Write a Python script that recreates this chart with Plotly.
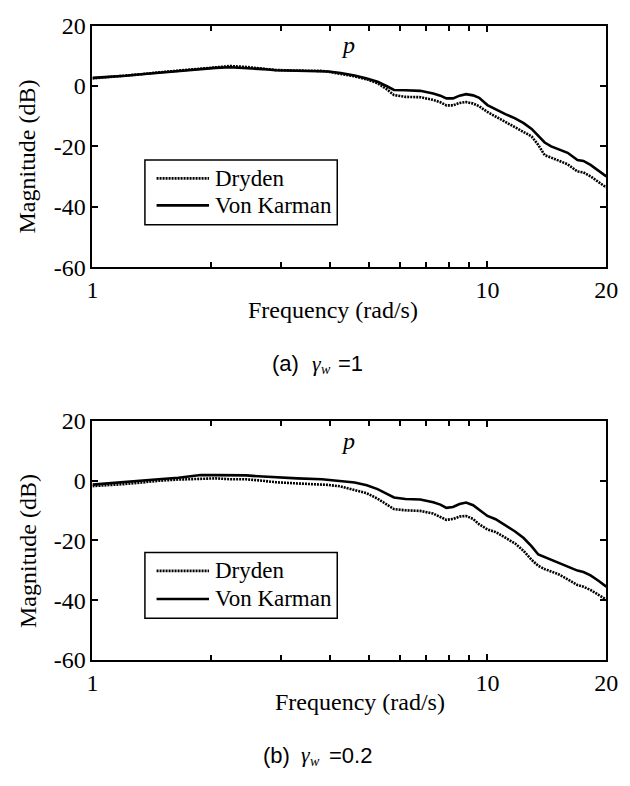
import plotly.graph_objects as go
import math

# ---------------- data ----------------
freq = [1.00, 1.10, 1.21, 1.33, 1.47, 1.65, 1.88, 2.05, 2.23, 2.45, 2.70, 2.91, 3.30, 3.81, 3.96,
        4.25, 4.61, 4.95, 5.27, 5.55, 5.80, 6.20, 6.76, 7.29, 7.60, 7.87, 8.18, 8.50, 8.83, 9.20,
        9.53, 10.0, 10.49, 11.10, 11.75, 12.35, 12.94, 13.45, 13.96, 14.50, 15.07, 15.96, 16.90,
        17.50, 18.24, 19.10, 20.0]

vk_a = [2.7, 3.0, 3.4, 3.9, 4.4, 5.0, 5.7, 6.0, 6.2, 6.0, 5.6, 5.2, 5.1, 5.0, 4.8,
        4.3, 3.5, 2.5, 1.4, 0.0, -1.3, -1.4, -1.6, -2.5, -3.2, -4.1, -4.1, -3.2, -2.7, -3.1,
        -3.9, -6.3, -7.8, -9.3, -10.7, -12.3, -14.2, -16.5, -18.7, -20.0, -20.8, -22.1, -24.5,
        -24.8, -26.1, -28.0, -29.9]
dr_a = [2.5, 2.9, 3.3, 3.9, 4.5, 5.1, 5.8, 6.2, 6.6, 6.3, 5.7, 5.3, 5.1, 5.0, 4.7,
        4.1, 3.2, 2.2, 0.9, -1.0, -3.0, -3.6, -3.7, -4.6, -5.4, -6.4, -6.4, -5.6, -5.3, -5.8,
        -6.7, -8.6, -10.1, -11.9, -13.5, -15.0, -16.7, -19.5, -22.9, -23.7, -24.5, -25.9, -28.3,
        -28.6, -29.9, -31.8, -33.6]

vk_b = [-1.3, -0.8, -0.3, 0.1, 0.5, 1.0, 1.9, 1.9, 1.9, 1.8, 1.4, 1.1, 0.8, 0.5, 0.3,
        0.0, -0.6, -1.5, -2.8, -4.3, -5.6, -6.1, -6.3, -7.2, -8.0, -9.1, -8.8, -7.8, -7.3, -8.2,
        -9.8, -11.8, -12.9, -15.0, -17.0, -19.2, -22.0, -24.7, -25.6, -26.5, -27.4, -28.7, -30.1,
        -30.6, -31.7, -33.5, -35.5]
dr_b = [-1.8, -1.5, -1.1, -0.6, 0.0, 0.4, 0.75, 0.8, 0.5, 0.5, 0.0, -0.5, -0.9, -1.1, -1.4,
        -1.9, -3.0, -4.2, -6.0, -7.9, -9.5, -9.9, -10.1, -11.0, -12.0, -13.1, -12.8, -12.0, -11.8, -12.8,
        -14.6, -16.3, -17.2, -19.2, -21.0, -23.5, -26.5, -28.5, -29.6, -30.4, -31.2, -33.0, -34.9,
        -35.5, -36.6, -38.2, -39.8]

series_names = ["Dryden", "Von Karman"]
x_tickvals = [1, 10, 20]
x_ticktext = ["1", "10", "20"]
x_minorvals = [2, 3, 4, 5, 6, 7, 8, 9]
y_tickvals = [-60, -40, -20, 0, 20]
y_ticktext = ["-60", "-40", "-20", "0", "20"]
x_title = "Frequency (rad/s)"
y_title = "Magnitude (dB)"
panel_labels = ["(a)", "(b)"]
gamma_values = ["=1", "=0.2"]

# ---------------- layout helpers ----------------
W, H = 630, 786
SERIF = "Liberation Serif"
SANS = "Liberation Sans"


def px(x):
    return x / W


def py(y):
    return 1 - y / H


X0, X1 = 89, 618
panels = [
    dict(top=13, bot=263, xt_x=337, xt_y=307, yl_y=148, p_y=33,
         leg_top=152, leg_bot=219, l1=171, l2=199,
         cap_y=363, cap_lab_x=272, cap_g_x=313, cap_w_x=322, cap_v_x=340),
    dict(top=422, bot=669, xt_x=364, xt_y=713, yl_y=556, p_y=443,
         leg_top=558, leg_bot=626, l1=577, l2=606,
         cap_y=768, cap_lab_x=263, cap_g_x=302, cap_w_x=311, cap_v_x=330),
]
data_sets = [(dr_a, vk_a), (dr_b, vk_b)]
DOT = "2px,1px"

fig = go.Figure()
shapes = []
annotations = []


def note(text, x, y, size, family, xanchor="center", angle=0):
    annotations.append(dict(text=text, x=px(x), y=py(y), xref="paper", yref="paper",
                            showarrow=False, xanchor=xanchor, yanchor="middle",
                            textangle=angle, font=dict(family=family, size=size, color="black")))


for i, (pn, (dr, vk)) in enumerate(zip(panels, data_sets)):
    xa = "x" if i == 0 else "x2"
    ya = "y" if i == 0 else "y2"
    fig.add_trace(go.Scatter(x=freq, y=vk, mode="lines", name=series_names[1],
                             line=dict(color="black", width=2.6), xaxis=xa, yaxis=ya,
                             showlegend=False))
    fig.add_trace(go.Scatter(x=freq, y=dr, mode="lines", name=series_names[0],
                             line=dict(color="black", width=2.6, dash=DOT),
                             xaxis=xa, yaxis=ya, showlegend=False))

    axis_common = dict(showline=True, linecolor="black", linewidth=2, mirror="allticks",
                       ticks="inside", ticklen=6, tickwidth=1.5, tickcolor="black",
                       showgrid=False, zeroline=False,
                       tickfont=dict(family=SERIF, size=24, color="black"))
    xkey = "xaxis" if i == 0 else "xaxis2"
    ykey = "yaxis" if i == 0 else "yaxis2"
    fig.update_layout(**{
        xkey: dict(type="log", range=[0, math.log10(20)], domain=[px(X0), px(X1)],
                   tickvals=x_tickvals, ticktext=x_ticktext, anchor=ya,
                   minor=dict(tickvals=x_minorvals, ticks="inside", ticklen=5,
                              tickwidth=1.5, tickcolor="black", showgrid=False),
                   **axis_common),
        ykey: dict(range=[-60, 20], domain=[py(pn["bot"]), py(pn["top"])],
                   tickvals=y_tickvals, ticktext=y_ticktext, anchor=xa, **axis_common),
    })

    note(x_title, pn["xt_x"], pn["xt_y"], 24, SERIF)
    note(y_title, 22, pn["yl_y"], 24, SERIF, angle=-90)
    note("<i>p</i>", 352, pn["p_y"], 24, SERIF)

    # caption: "(x)  γ_w =value"
    note(panel_labels[i], pn["cap_lab_x"], pn["cap_y"], 22, SANS, xanchor="left")
    note("<i>γ</i>", pn["cap_g_x"], pn["cap_y"] - 1, 22, SERIF, xanchor="left")
    note("<i>w</i>", pn["cap_w_x"], pn["cap_y"] + 6, 14, SERIF, xanchor="left")
    note(gamma_values[i], pn["cap_v_x"], pn["cap_y"], 22, SANS, xanchor="left")

    # legend box
    shapes.append(dict(type="rect", xref="paper", yref="paper", x0=px(143), x1=px(341),
                       y0=py(pn["leg_bot"]), y1=py(pn["leg_top"]),
                       line=dict(color="black", width=1.5), fillcolor="white", layer="above"))
    shapes.append(dict(type="line", xref="paper", yref="paper", x0=px(155), x1=px(209),
                       y0=py(pn["l1"]), y1=py(pn["l1"]),
                       line=dict(color="black", width=2.6, dash=DOT), layer="above"))
    shapes.append(dict(type="line", xref="paper", yref="paper", x0=px(155), x1=px(209),
                       y0=py(pn["l2"]), y1=py(pn["l2"]),
                       line=dict(color="black", width=2.6), layer="above"))
    for name, yy in zip(series_names, [pn["l1"], pn["l2"]]):
        note(name, 213, yy, 23, SERIF, xanchor="left")

fig.update_layout(width=W, height=H, margin=dict(l=0, r=0, t=0, b=0),
                  paper_bgcolor="white", plot_bgcolor="white",
                  shapes=shapes, annotations=annotations, showlegend=False)

fig.write_html("out.html",
               post_script="document.body.style.margin='0px';"
                           "document.body.style.padding='0px';"
                           "document.body.style.overflow='hidden';")
